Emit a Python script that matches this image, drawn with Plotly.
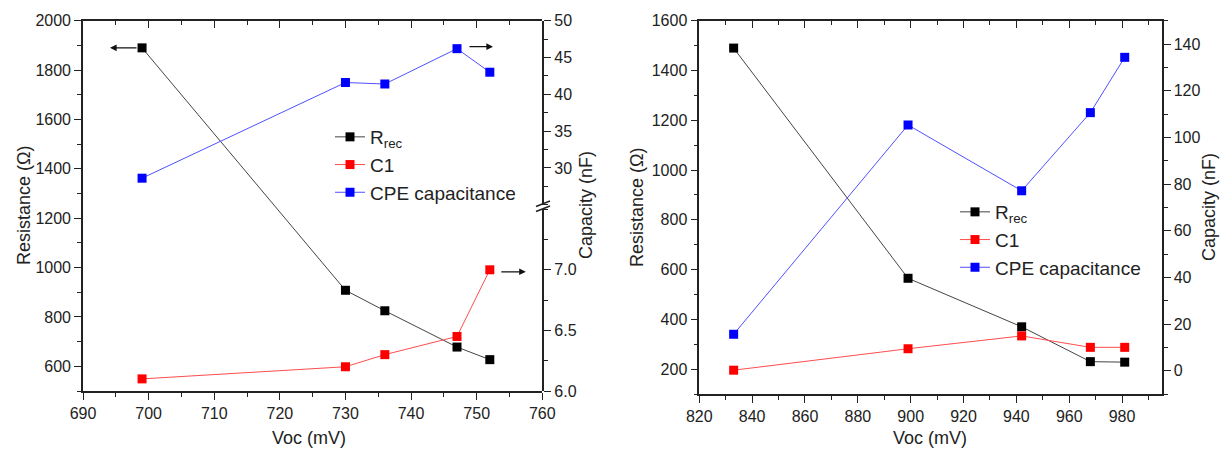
import plotly.graph_objects as go

# ---------------- data ----------------
left_voc = [699, 730, 736, 747, 752]
left_rrec = [1890, 908, 825, 678, 627]
left_c1 = [6.10, 6.20, 6.30, 6.45, 7.00]
left_cpe = [28.6, 41.6, 41.4, 46.2, 43.0]

right_voc = [833, 899, 942, 968, 981]
right_rrec = [1490, 565, 370, 230, 228]
right_c1 = [0.2, 9.4, 14.9, 10.0, 10.0]
right_cpe = [15.6, 105.3, 77.1, 110.6, 134.3]

series_names = ["R<sub>rec</sub>", "C1", "CPE capacitance"]
x_title = "Voc (mV)"
yl_title = "Resistance (\u03a9)"
yr_title = "Capacity (nF)"

# ---------------- styling ----------------
W, H = 1221, 452
FONT = "Liberation Sans, Arial, sans-serif"
TICKFONT = dict(family=FONT, size=16, color="#222")
mk = dict(symbol="square", size=9)
col_mark = ["#000000", "#ff0000", "#0000ff"]
col_line = ["#444444", "#ff4d4d", "#5050ff"]


def px_x(p):
    return p / W


def px_y(p):
    return (H - p) / H


# domains (paper)
L_X = [px_x(83), px_x(542.3)]
R_X = [px_x(699.3), px_x(1161.7)]
L_Y = [px_y(391), px_y(20.7)]
L_Y_LOW = [px_y(391), px_y(209.2)]
L_Y_UP = [px_y(204.7), px_y(20.7)]
R_Y = [px_y(394), px_y(20.7)]

fig = go.Figure()


def add(x, y, i, xa, ya, legend):
    fig.add_trace(go.Scatter(
        x=x, y=y, mode="lines+markers", name=series_names[i],
        xaxis=xa, yaxis=ya, legend=legend,
        line=dict(color=col_line[i], width=1),
        marker=dict(color=col_mark[i], line=dict(width=0), **mk),
        cliponaxis=False,
    ))


add(left_voc, left_rrec, 0, "x", "y", "legend")
add(left_voc, left_c1, 1, "x", "y4", "legend")
add(left_voc, left_cpe, 2, "x", "y3", "legend")
add(right_voc, right_rrec, 0, "x2", "y2", "legend2")
add(right_voc, right_c1, 1, "x2", "y5", "legend2")
add(right_voc, right_cpe, 2, "x2", "y5", "legend2")

# invisible helper traces so the top mirror axes render
fig.add_trace(go.Scatter(x=left_voc, y=left_rrec, xaxis="x3", yaxis="y", mode="markers",
                         marker=dict(opacity=0), showlegend=False, hoverinfo="skip"))
fig.add_trace(go.Scatter(x=right_voc, y=right_rrec, xaxis="x4", yaxis="y2", mode="markers",
                         marker=dict(opacity=0), showlegend=False, hoverinfo="skip"))

axis_common = dict(showgrid=False, zeroline=False, showline=True, linecolor="#222",
                   linewidth=1.6, ticks="outside", ticklen=7, tickwidth=1.4,
                   tickcolor="#222", tickfont=TICKFONT, automargin=False)


def minor(d):
    return dict(dtick=d, ticks="outside", ticklen=4, tickwidth=1.2, tickcolor="#222")


def minor_in(d):
    return dict(dtick=d, ticks="inside", ticklen=4, tickwidth=1.2, tickcolor="#222")


fig.update_layout(
    width=W, height=H, margin=dict(l=0, r=0, t=0, b=0, autoexpand=False),
    paper_bgcolor="white", plot_bgcolor="rgba(0,0,0,0)",
    font=dict(family=FONT, color="#222"),
    xaxis=dict(domain=L_X, anchor="y", range=[690, 760], dtick=10, tick0=690,
               minor=minor(5), **axis_common),
    xaxis3=dict(domain=L_X, anchor="y", overlaying="x", side="top", range=[690, 760],
                dtick=10, tick0=690, showticklabels=False,
                **{**axis_common, "ticks": "inside"}, minor=minor_in(5)),
    yaxis=dict(domain=L_Y, anchor="x", range=[500, 2000], tickvals=list(range(600, 2001, 200)),
               minor=minor(100), **axis_common),
    yaxis3=dict(domain=L_Y_UP, anchor="x", side="right", range=[25, 50],
                tickvals=[30, 35, 40, 45, 50], minor=minor(2.5), **axis_common),
    yaxis4=dict(domain=L_Y_LOW, anchor="x", side="right", range=[6.0, 7.5],
                tickvals=[6.0, 6.5, 7.0], tickformat=".1f", minor=minor(0.25), **axis_common),
    xaxis2=dict(domain=R_X, anchor="y2", range=[820, 995], dtick=20, tick0=820,
                minor=minor(10), **axis_common),
    xaxis4=dict(domain=R_X, anchor="y2", overlaying="x2", side="top", range=[820, 995],
                dtick=20, tick0=820, showticklabels=False,
                **{**axis_common, "ticks": "inside"}, minor=minor_in(10)),
    yaxis2=dict(domain=R_Y, anchor="x2", range=[100, 1600], tickvals=list(range(200, 1601, 200)),
                minor=minor(100), **axis_common),
    yaxis5=dict(anchor="x2", overlaying="y2", side="right", range=[-10, 150],
                tickvals=list(range(0, 141, 20)), minor=minor(10), **axis_common),
    legend=dict(x=px_x(330), y=px_y(118), xanchor="left", yanchor="top",
                font=dict(family=FONT, size=19, color="#222"), bgcolor="rgba(0,0,0,0)",
                tracegroupgap=0),
    legend2=dict(x=px_x(955), y=px_y(193), xanchor="left", yanchor="top",
                 font=dict(family=FONT, size=19, color="#222"), bgcolor="rgba(0,0,0,0)",
                 tracegroupgap=0),
)

# axis titles
ann = []
ttl_font = dict(family=FONT, size=18, color="#222")
ctr = dict(xref="paper", yref="paper", xanchor="center", yanchor="middle",
           showarrow=False, font=ttl_font)
ann.append(dict(text=yl_title, x=px_x(24), y=px_y(205), textangle=-90, **ctr))
ann.append(dict(text=yr_title, x=px_x(586), y=px_y(205), textangle=-90, **ctr))
ann.append(dict(text=yl_title, x=px_x(637), y=px_y(207), textangle=-90, **ctr))
ann.append(dict(text=yr_title, x=px_x(1209), y=px_y(207), textangle=-90, **ctr))
ann.append(dict(text=x_title, x=px_x(309), y=px_y(438), **ctr))
ann.append(dict(text=x_title, x=px_x(930), y=px_y(438), **ctr))

# axis-pointing arrows, anchored at data points
arrow = dict(text="", showarrow=True, arrowhead=2, arrowsize=1.1, arrowwidth=1.2,
             arrowcolor="#111", axref="pixel", ayref="pixel")
ann.append(dict(x=left_voc[0], y=left_rrec[0], xref="x", yref="y", ax=28, ay=0,
                xshift=-32, **arrow))
ann.append(dict(x=left_voc[3], y=left_cpe[3], xref="x", yref="y3", ax=-25, ay=0,
                xshift=36, yshift=2, **arrow))
ann.append(dict(x=left_voc[4], y=left_c1[4], xref="x", yref="y4", ax=-26, ay=0,
                xshift=36, yshift=-2, **arrow))
fig.update_layout(annotations=ann)

# axis break marks on the right axis of the left panel
for dy in (0, 5):
    fig.add_shape(type="line", xref="paper", yref="paper",
                  x0=px_x(536), y0=px_y(206.5 + dy), x1=px_x(550), y1=px_y(201 + dy),
                  line=dict(color="#222", width=1.5))

fig.write_html("out.html")
